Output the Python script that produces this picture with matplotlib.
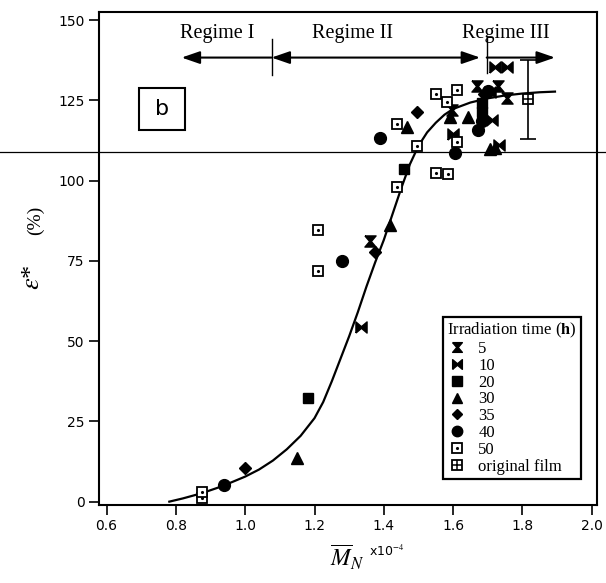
import matplotlib
matplotlib.use("Agg")
import matplotlib.pyplot as plt
from matplotlib.lines import Line2D
from matplotlib.legend_handler import HandlerTuple
from matplotlib.patches import Rectangle
import matplotlib.transforms as mtransforms

plt.rcParams['mathtext.fontset'] = 'stix'

# ---------------- data ----------------
x_ticks = [0.6, 0.8, 1.0, 1.2, 1.4, 1.6, 1.8, 2.0]
x_ticklabels = ['0.6', '0.8', '1.0', '1.2', '1.4', '1.6', '1.8', '2.0']
y_ticks = [0, 25, 50, 75, 100, 125, 150]

h5_x = [1.360, 1.596, 1.668, 1.730, 1.755]
h5_y = [81.3, 122.0, 129.5, 129.3, 125.8]

h10_x = [1.333, 1.721, 1.755, 1.600, 1.711, 1.733, 1.707]
h10_y = [54.3, 135.5, 135.3, 114.5, 119.0, 111.0, 127.7]

h20_x = [1.180, 1.458, 1.683, 1.683]
h20_y = [32.2, 103.5, 124.0, 121.3]

h30_x = [1.150, 1.418, 1.466, 1.591, 1.644, 1.707, 1.721]
h30_y = [13.7, 86.2, 116.6, 119.7, 119.9, 109.7, 110.2]

h35_x = [0.999, 1.375, 1.495, 1.690]
h35_y = [10.6, 77.9, 121.5, 127.0]

h40_x = [0.939, 1.280, 1.389, 1.605, 1.683, 1.673, 1.700]
h40_y = [5.2, 75.1, 113.4, 108.7, 118.5, 115.8, 127.8]

h50_x = [0.874, 0.874, 1.211, 1.211, 1.437, 1.551, 1.584, 1.495, 1.437,
         1.551, 1.612, 1.583, 1.612]
h50_y = [1.2, 3.0, 84.6, 71.8, 97.9, 102.3, 102.0, 110.8, 117.6,
         127.1, 128.3, 124.5, 111.9]

film_x = [1.817]
film_y = [125.3]
film_err = [12.35]

fit_x = [0.781, 0.82, 0.874, 0.92, 0.96, 1.0, 1.04, 1.08, 1.12, 1.16, 1.2,
         1.225, 1.25, 1.275, 1.3, 1.325, 1.35, 1.375, 1.4, 1.425, 1.45,
         1.475, 1.5, 1.525, 1.55, 1.575, 1.6, 1.65, 1.7, 1.75, 1.8, 1.85, 1.894]
fit_y = [0.0, 1.0, 2.6, 4.3, 6.0, 7.8, 10.0, 12.8, 16.3, 20.5, 26.0,
         31.0, 37.5, 44.5, 51.5, 59.0, 67.0, 74.5, 81.5, 89.5, 97.5,
         105.0, 110.8, 115.0, 118.0, 120.5, 122.3, 124.3, 125.6, 126.5, 127.1, 127.5, 127.7]

legend_labels = ['5', '10', '20', '30', '35', '40', '50', 'original film']
regime_labels = ['Regime I', 'Regime II', 'Regime III']

# ---------------- figure ----------------
fig = plt.figure(figsize=(6.06, 5.83), dpi=100)
ax = fig.add_axes([0.1639, 0.1346, 0.8208, 0.8443])
ax.set_xlim(0.579, 2.0145)
ax.set_ylim(-0.9, 152.4)

hourglass = [(-1, 1), (1, 1), (0.15, 0), (1, -1), (-1, -1), (-0.15, 0), (-1, 1)]
bowtie = [(-1, -1), (-1, 1), (0, 0.15), (1, 1), (1, -1), (0, -0.15), (-1, -1)]

ms = 8
ax.plot(fit_x, fit_y, color='black', lw=1.6, zorder=2)

ax.plot(h5_x, h5_y, ls='none', marker=hourglass, ms=ms, color='black', zorder=3)
ax.plot(h10_x, h10_y, ls='none', marker=bowtie, ms=ms, color='black', zorder=3)
ax.plot(h20_x, h20_y, ls='none', marker='s', ms=7.5, color='black', zorder=3)
ax.plot(h30_x, h30_y, ls='none', marker='^', ms=8, color='black', zorder=3)
ax.plot(h35_x, h35_y, ls='none', marker='D', ms=6, color='black', zorder=3)
ax.plot(h40_x, h40_y, ls='none', marker='o', ms=8.5, color='black', zorder=3)
ax.plot(h50_x, h50_y, ls='none', marker='s', ms=7.5, mfc='white', mec='black', mew=1.3, zorder=3)
ax.plot(h50_x, h50_y, ls='none', marker='.', ms=2.5, color='black', zorder=4)

ax.errorbar(film_x, film_y, yerr=film_err, fmt='none', ecolor='black', elinewidth=1.2,
            capsize=5.5, capthick=1.2, zorder=3)
ax.plot(film_x, film_y, ls='none', marker='s', ms=7.5, mfc='white', mec='black', mew=1.3, zorder=4)
ax.plot(film_x, film_y, ls='none', marker='+', ms=7.5, mec='black', mew=1.1, zorder=5)

# regime arrows
ay = 138.3
ap = dict(lw=1.5, color='black', shrinkA=0, shrinkB=0)
ax.annotate('', xy=(0.8165, ay), xytext=(1.076, ay),
            arrowprops=dict(arrowstyle='-|>,head_length=1.1,head_width=0.38', **ap))
ax.annotate('', xy=(1.678, ay), xytext=(1.076, ay),
            arrowprops=dict(arrowstyle='<|-|>,head_length=1.1,head_width=0.38', **ap))
ax.annotate('', xy=(1.894, ay), xytext=(1.697, ay),
            arrowprops=dict(arrowstyle='-|>,head_length=1.1,head_width=0.38', **ap))
ax.plot([1.076, 1.076], [132.9, 144.1], color='black', lw=1.0)
ax.plot([1.697, 1.697], [133.5, 144.4], color='black', lw=1.0)

reg_font = dict(family='Liberation Serif', fontsize=14.5, ha='center', va='center')
ax.text(0.920, 145.8, regime_labels[0], **reg_font)
ax.text(1.311, 145.8, regime_labels[1], **reg_font)
ax.text(1.752, 145.8, regime_labels[2], **reg_font)

# 'b' panel box
fig.add_artist(Rectangle((139 / 606, 1 - 130 / 583), 46 / 606, 42 / 583,
                         transform=fig.transFigure, fill=False, ec='black', lw=1.5))
fig.text(162 / 606, 1 - 109 / 583, 'b', fontsize=16, ha='center', va='center',
         family='DejaVu Sans')

# horizontal line across the figure
trans = mtransforms.blended_transform_factory(fig.transFigure, ax.transData)
ax.add_line(Line2D([0, 1], [109.0, 109.0], transform=trans, color='black', lw=0.9,
                   clip_on=False, zorder=1))

# axes styling
for s in ax.spines.values():
    s.set_linewidth(1.5)
ax.set_xticks(x_ticks)
ax.set_xticklabels(x_ticklabels)
ax.set_yticks(y_ticks)
ax.tick_params(direction='out', length=7.5, width=1.2, labelsize=10, pad=3)
for lab in ax.get_xticklabels() + ax.get_yticklabels():
    lab.set_family('DejaVu Sans')

# axis labels
fig.text(33 / 606, 1 - 277 / 583, r'$\varepsilon$*', rotation=90, fontsize=19,
         ha='center', va='center', family='Liberation Serif')
fig.text(35 / 606, 1 - 220 / 583, '(%)', rotation=90, fontsize=14,
         ha='center', va='center', family='Liberation Serif')
fig.text(347 / 606, 1 - 557 / 583, r'$\overline{M}_N$', fontsize=17, ha='center', va='center')
fig.text(387 / 606, 1 - 551 / 583, r'x10$^{-4}$', fontsize=9, ha='center', va='center',
         family='DejaVu Sans')

# legend
def mk(m, **kw):
    base = dict(ls='none', color='black', ms=7)
    base.update(kw)
    return Line2D([], [], marker=m, **base)

handles = [
    mk(hourglass),
    mk(bowtie),
    mk('s', ms=6.5),
    mk('^'),
    mk('D', ms=5.5),
    mk('o', ms=7.5),
    (mk('s', ms=6.5, mfc='white', mew=1.3), mk('.', ms=2.5)),
    (mk('s', ms=6.5, mfc='white', mew=1.3), mk('+', ms=6.5, mew=1.1)),
]
leg = ax.legend(handles, legend_labels, loc='upper left', bbox_to_anchor=(0.690, 0.3815),
                title=r'Irradiation time ($\mathbf{h}$)', frameon=True, fancybox=False,
                framealpha=1, edgecolor='black', borderpad=0.25, labelspacing=0.05,
                handlelength=1.2, handletextpad=0.7, borderaxespad=0,
                prop=dict(family='Liberation Serif', size=12),
                title_fontproperties=dict(family='Liberation Serif', size=12),
                alignment='left',
                handler_map={tuple: HandlerTuple(ndivide=1)})
leg.get_frame().set_linewidth(1.6)

fig.savefig('out.png', dpi=100)
